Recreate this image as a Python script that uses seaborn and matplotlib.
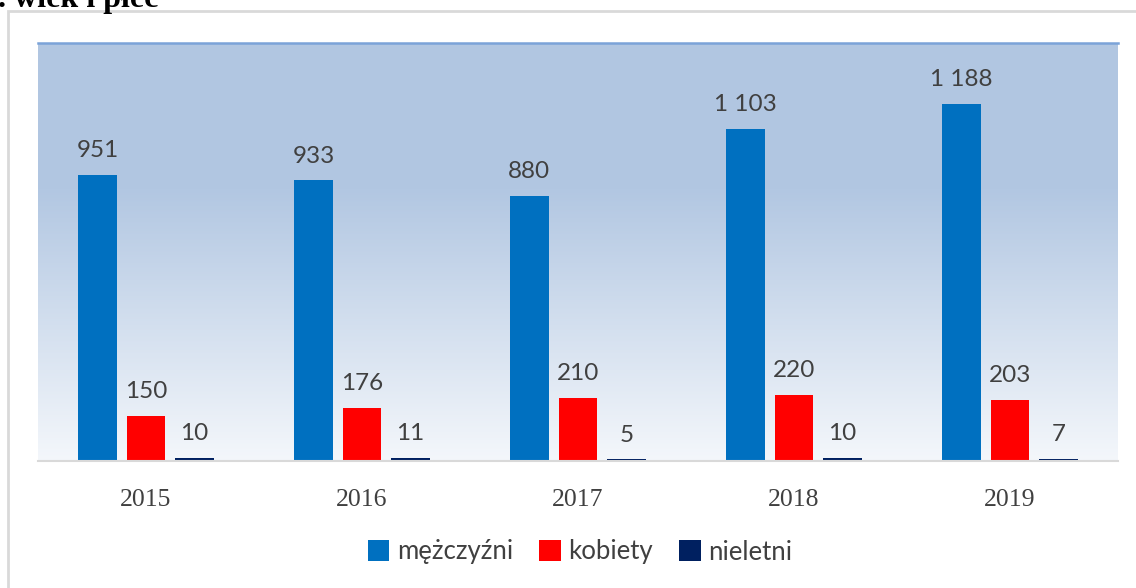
import numpy as np
import pandas as pd
import matplotlib.pyplot as plt
import seaborn as sns
from matplotlib.colors import LinearSegmentedColormap
from matplotlib.patches import Rectangle, Patch

# data
years = ["2015", "2016", "2017", "2018", "2019"]
groups = ["mężczyźni", "kobiety", "nieletni"]
men = [951, 933, 880, 1103, 1188]
women = [150, 176, 210, 220, 203]
minors = [10, 11, 5, 10, 7]
colors = ["#0070C0", "#FF0000", "#002060"]

df = pd.DataFrame({
    "rok": years * 3,
    "grupa": [g for g in groups for _ in years],
    "liczba": men + women + minors,
})

sns.set_theme(style="white")
plt.rcParams["font.family"] = ["Lato", "DejaVu Sans"]

fig = plt.figure(figsize=(11.36, 5.88), dpi=100)
ax = fig.add_axes([38 / 1136, 127 / 588, 1080 / 1136, 418 / 588])

ymax = 1390
# gradient background of the plot area
grad = LinearSegmentedColormap.from_list(
    "bg", [(0.0, "#B1C6E1"), (0.35, "#B2C7E2"), (1.0, "#F4F7FB")])
ax.imshow(np.linspace(0, 1, 256).reshape(-1, 1), cmap=grad, aspect="auto",
          extent=[-0.5, 4.5, 0, ymax], origin="upper", zorder=0)

sns.barplot(data=df, x="rok", y="liczba", hue="grupa", palette=colors,
            width=0.675, gap=0.2, saturation=1, linewidth=0, ax=ax, zorder=2)

ax.set_xlim(-0.5, 4.5)
ax.set_ylim(0, ymax)

series = [men, women, minors]
for cont, vals in zip(ax.containers, series):
    labels = [f"{v:,}".replace(",", " ") for v in vals]
    ax.bar_label(cont, labels=labels, padding=10, fontsize=17.5, color="#404040")

ax.set_xlabel("")
ax.set_ylabel("")
ax.set_yticks([])
ax.tick_params(axis="x", length=0, pad=20, labelsize=18.5, labelcolor="#404040")
for lbl in ax.get_xticklabels():
    lbl.set_fontfamily("Liberation Serif")

for s in ["left", "right"]:
    ax.spines[s].set_visible(False)
ax.spines["top"].set_color("#7BA3D8")
ax.spines["top"].set_linewidth(1.8)
ax.spines["bottom"].set_color("#D9D9D9")
ax.spines["bottom"].set_linewidth(1.5)

if ax.get_legend() is not None:
    ax.get_legend().remove()
handles = [Patch(facecolor=c, edgecolor="none") for c in colors]
fig.legend(handles, groups, loc="center", bbox_to_anchor=(580 / 1136, 36 / 588),
           ncol=3, frameon=False, fontsize=18.5, handlelength=0.85, handleheight=0.85,
           handletextpad=0.3, columnspacing=1.0, labelcolor="#404040")

# outer frame and the cut-off heading above it
fig.add_artist(Rectangle((8 / 1136, -0.1), 1.2, (588 - 11) / 588 + 0.1,
                         transform=fig.transFigure, fill=False,
                         edgecolor="#D9D9D9", linewidth=2))
fig.text(-2 / 1136, 1 - 7 / 588, ". wiek i płeć", fontsize=23, fontweight="bold",
         family="Liberation Serif", va="baseline", ha="left", color="black")

fig.savefig("out.png", dpi=100)
